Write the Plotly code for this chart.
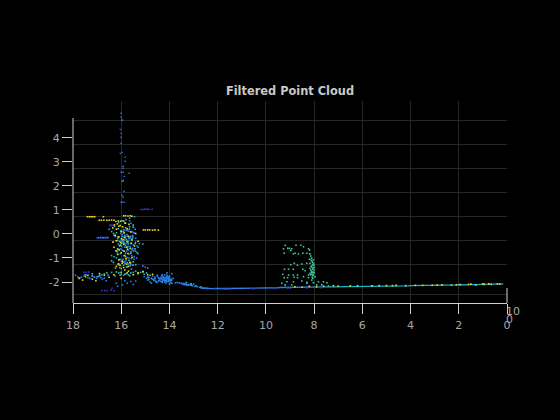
import plotly.graph_objects as go

X_TICKS = [18, 16, 14, 12, 10, 8, 6, 4, 2, 0]
Y_TICKS = [4, 3, 2, 1, 0, -1, -2]
Y_TICK_TEXT = ["4", "3", "2", "1", "0", "-1", "-2"]
Y_GRID = [4.71, 3.71, 2.71, 1.71, 0.71, -0.29, -1.29, -2.54]

column_x = [16.0,16.0,15.97,15.95,16.04,16.0,16.0,16.0,16.04,15.96,15.84,15.84,15.92,15.92,16.0,15.92,15.67,15.88,15.92,15.96,15.92,15.88,15.96,15.92,16.0,15.88,15.97]
column_y = [5.03,4.86,4.74,4.74,4.36,4.19,4.03,3.78,3.36,3.4,3.2,3.03,2.82,2.74,2.57,2.57,2.53,2.4,2.24,2.19,2.19,1.78,1.61,1.53,1.32,1.32,1.32]

blue_x = [15.65,15.6,15.5,15.42,15.9,15.8,15.75,15.7,15.62,15.55,15.5,15.45,15.85,15.78,15.72,15.66,15.6,15.52,15.4,16.0,15.95,15.88,15.8,15.7,15.6,15.5,15.34,16.1,16.02,15.9,15.78,15.7,15.6,15.5,
 15.9,15.82,15.75,15.68,15.58,15.47,15.3,16.0,15.9,15.84,15.7,15.62,15.52,15.1,15.0,14.9,16.95,16.85,16.75,16.65,16.55,
 17.9,17.8,17.72,17.65,17.55,17.45,17.38,17.3,17.2,17.1,17.02,16.95,16.85,16.78,16.7,16.62,16.2,15.95,15.85,15.75,15.6,15.5,15.4,16.15,
 15.05,14.95,14.9,14.85,14.8,14.7,14.65,14.6,14.55,14.5,14.45,14.4,14.35,14.3,14.25,14.2,14.15,14.1,14.05,14.0,13.95,13.9,13.85,14.6,14.5,14.4,14.3,14.2,14.1,14.0,13.9,14.7,14.6,14.5,14.45,14.35,14.25,14.2,14.15,14.1,14.05,14.0,13.95,14.3,14.2,14.1,14.0,13.95,14.85,14.75,14.65,14.55,14.45,14.35,14.25,14.15,14.05,
 14.28,14.22,14.18,14.12,14.08,14.02,13.98,14.26,14.16,14.06,14.32,14.12,14.04,14.24,14.14,
 13.75,13.68,13.6,13.5,13.42,13.35,13.3,13.25,13.2,13.12,13.05,12.95,12.85,12.75,12.68,12.6,12.5,12.42,
 16.02,15.96,15.9,15.84,15.76,15.68,15.58,16.08,15.98,15.86,15.74,15.64,15.52,15.44,16.14,16.04,15.92,15.8,15.66,15.56,15.46,15.36]
blue_y = [0.55,0.45,0.33,0.2,0.18,0.15,0.15,0.12,0.1,0.1,0.06,0.04,-0.05,-0.08,-0.1,-0.12,-0.1,-0.15,-0.18,-0.3,-0.28,-0.35,-0.4,-0.42,-0.4,-0.45,-0.5,-0.65,-0.62,-0.7,-0.72,-0.68,-0.75,-0.7,
 -0.9,-0.95,-0.98,-1.0,-1.02,-1.05,-0.82,-1.12,-1.18,-1.22,-1.25,-1.2,-1.3,-1.33,-1.38,-1.42,-0.15,-0.15,-0.16,-0.16,-0.15,
 -1.72,-1.78,-1.83,-1.8,-1.75,-1.7,-1.82,-1.85,-1.76,-1.8,-1.85,-1.78,-1.82,-1.88,-1.84,-1.95,-2.05,-2.12,-1.95,-2.05,-1.98,-2.1,-1.96,-2.18,
 -1.78,-1.85,-1.92,-1.82,-2.0,-1.75,-1.9,-1.8,-1.98,-1.72,-1.85,-1.95,-1.8,-1.7,-1.9,-2.0,-1.82,-1.62,-1.88,-1.75,-1.95,-1.65,-1.85,-1.92,-2.02,-1.88,-1.98,-1.92,-1.85,-1.78,-1.92,-1.88,-1.84,-1.76,-1.82,-1.86,-1.9,-1.93,-1.96,-1.72,-1.8,-1.84,-1.9,-1.86,-1.7,-1.98,-1.95,-2.02,-1.9,-2.05,-1.94,-2.0,-1.95,-1.98,-1.78,-2.05,-1.97,
 -1.86,-1.83,-1.9,-1.87,-1.81,-1.94,-1.89,-1.78,-1.96,-1.98,-1.74,-1.76,-1.84,-1.92,-1.94,
 -2.03,-2.02,-2.03,-2.05,-2.06,-2.08,-2.1,-2.12,-2.1,-2.14,-2.16,-2.18,-2.2,-2.22,-2.24,-2.25,-2.26,-2.27,
 0.02,-0.02,0.05,-0.12,-0.02,-0.2,-0.25,-0.5,-0.52,-0.55,-0.58,-0.52,-0.6,-0.62,-0.85,-0.82,-1.05,-1.08,-0.85,-0.9,-0.95,-1.0]

indigo_x = [15.18,15.1,15.03,14.97,14.9,14.84,14.72,16.47,16.43,16.38,16.32,17.0,16.92,16.85,16.78,16.7,16.6,16.8,16.68,16.58,16.42,16.3,16.38,
 17.55,17.45,17.35,14.3,14.22,14.15,14.1,14.0,13.92,13.55,13.5,13.45,13.4,13.35,13.3,13.25,12.1,11.85,11.7,11.6,11.5,10.6,10.5,9.7,9.6,9.1,9.0,8.3,7.7]
indigo_y = [1.02,1.02,1.03,1.03,1.03,1.02,1.03,0.36,0.36,0.36,0.35,-0.16,-0.17,-0.15,-0.14,-0.15,-0.14,-2.36,-2.36,-2.36,-2.34,-2.36,-2.26,
 -1.6,-1.6,-1.58,-1.92,-1.95,-1.98,-1.85,-1.92,-1.88,-2.06,-2.08,-2.1,-2.12,-2.12,-2.14,-2.14,-2.29,-2.29,-2.3,-2.3,-2.3,-2.28,-2.29,-2.27,-2.27,-2.26,-2.26,-2.25,-2.24]

cyan_x = [16.5,16.4,16.32,16.25,16.15,16.08,15.98,15.9,15.82,15.72,15.62,15.55,15.48,15.4,15.3,16.4,16.3,16.2,16.05,15.95,15.85,15.75,15.6,15.5,15.4,16.3,16.15,16.0,15.85,15.7,15.55,15.4,15.25,15.1,16.2,16.02,15.9,15.75,15.65,15.5,16.1,15.95,15.8,15.65,15.45,
 16.7,16.55,16.4,16.25,16.1,16.0,15.9,15.8,15.7,15.6,15.4,15.2,15.05,14.9,14.75,17.2,17.12,17.0,16.9,16.8,14.3,14.0,13.9,13.4,13.3,13.1,13.0,12.9,12.7,
 15.96,15.88,15.78,15.68,16.12,16.02,15.92,15.62,15.52,16.18,15.82,15.42,16.06,15.74,15.58]
cyan_y = [0.2,0.1,0.02,-0.1,-0.2,-0.3,-0.38,-0.42,-0.48,-0.52,-0.6,-0.65,-0.7,-0.72,-0.55,-0.9,-0.95,-1.0,-1.05,-1.1,-1.15,-1.2,-1.25,-1.3,-1.28,-0.05,-0.12,-0.2,-0.25,-0.3,-0.2,-0.35,-0.4,-0.42,0.05,0.12,0.18,0.22,0.3,0.38,0.48,0.55,0.6,0.66,0.72,
 -1.66,-1.72,-1.6,-1.75,-1.62,-1.68,-1.72,-1.66,-1.7,-1.62,-1.55,-1.6,-1.68,-1.8,-1.85,-1.74,-1.8,-1.78,-1.72,-1.7,-2.02,-2.08,-2.05,-2.08,-2.02,-2.13,-2.09,-2.16,-2.2,
 -0.1,-0.14,-0.22,-0.18,-0.42,-0.46,-0.34,-0.16,-0.08,-0.75,-0.8,-0.62,-1.4,-1.36,-1.46]

ground_blue_x = [12.7,12.4,12.3,12.2,12.1,12.0,11.9,11.8,11.7,11.6,11.5,11.4,11.3,11.2,11.1,11.0,10.9,10.8,10.7,10.6,10.5,10.4,10.3,10.2,10.1,10.0,9.9,9.8,9.7,9.6,9.5,9.4,9.3,9.2,9.1,9.0,8.9,8.8,8.7,8.6,8.5,8.4,8.3,8.2,8.1,8.0,7.9,7.8,7.7,7.6,7.5]
ground_blue_y = [-2.25,-2.28,-2.27,-2.28,-2.27,-2.28,-2.27,-2.27,-2.27,-2.27,-2.26,-2.27,-2.26,-2.26,-2.26,-2.26,-2.25,-2.25,-2.25,-2.25,-2.25,-2.25,-2.25,-2.25,-2.25,-2.24,-2.24,-2.24,-2.24,-2.24,-2.24,-2.23,-2.23,-2.23,-2.23,-2.23,-2.22,-2.22,-2.22,-2.22,-2.22,-2.22,-2.21,-2.21,-2.21,-2.21,-2.2,-2.2,-2.2,-2.2,-2.2]
ground_cyan_x = [7.5,7.4,7.3,7.2,7.1,7.0,6.9,6.8,6.7,6.6,6.5,6.4,6.3,6.2,6.1,6.0,5.9,5.8,5.7,5.6,5.5,5.4,5.3,5.2,5.1,5.0,4.9,4.8,4.7,4.6,4.5,4.4,4.3,4.2,4.1,4.0,3.9,3.8,3.7,3.6,3.5,3.4,3.3,3.2,3.1,3.0,2.9,2.8,2.7,2.6,2.5,2.4,2.3,2.2,2.1,2.0,1.9,1.8,1.7,1.6,1.5,1.4,1.3,1.2,1.1,1.0,0.9,0.85,0.7,0.6,0.45,0.35,0.25,0.15]
ground_cyan_y = [-2.2,-2.19,-2.19,-2.2,-2.2,-2.19,-2.19,-2.19,-2.19,-2.19,-2.19,-2.18,-2.18,-2.18,-2.18,-2.18,-2.18,-2.18,-2.17,-2.17,-2.17,-2.17,-2.17,-2.17,-2.17,-2.17,-2.16,-2.16,-2.17,-2.16,-2.16,-2.16,-2.16,-2.16,-2.16,-2.15,-2.15,-2.15,-2.15,-2.14,-2.14,-2.14,-2.14,-2.14,-2.14,-2.14,-2.14,-2.13,-2.14,-2.13,-2.13,-2.13,-2.12,-2.13,-2.12,-2.11,-2.12,-2.12,-2.11,-2.12,-2.11,-2.12,-2.1,-2.11,-2.1,-2.1,-2.09,-2.09,-2.08,-2.08,-2.08,-2.09,-2.08,-2.08]

green_x = [9.2,8.75,8.55,8.44,8.23,8.19,9.09,9.02,8.93,9.27,8.97,8.79,8.86,9.24,8.65,8.47,8.3,8.17,8.14,8.1,8.19,8.03,8.17,8.06,8.82,8.97,8.51,8.69,8.3,7.99,8.06,8.17,9.23,9.06,8.86,8.37,8.47,8.1,8.03,8.17,9.06,9.3,8.86,8.69,8.44,8.23,8.06,7.96,8.1,9.24,9.1,8.83,8.69,8.23,9.13,8.86,8.51,8.3,7.82,7.61,7.47,9.34,9.2,8.93,8.3,8.03,7.89,7.68,7.4,
 8.12,8.08,8.05,8.01,8.12,8.09,8.04,8.0,8.11,8.07,8.03,8.09,8.05,8.14,8.02,8.0,8.08,8.14,
 17.5,17.2,16.9,16.6,16.2,16.05,15.85,15.65,15.5,15.3,15.1,14.95,14.8,15.9,15.75,15.6,16.1,13.3,13.2,13.1,
 16.28,16.12,15.98,15.82,15.66,15.5,16.22,16.06,15.88,15.72,15.42,15.34,16.16,15.94,15.6,16.4,16.32,15.68,15.5,16.24,16.0,15.78,16.12,15.9,15.62]
green_y = [-0.47,-0.47,-0.47,-0.53,-0.62,-0.67,-0.6,-0.6,-0.62,-0.62,-0.69,-0.8,-0.83,-0.8,-0.83,-0.8,-0.8,-0.83,-0.92,-1.01,-1.05,-1.08,-1.22,-1.29,-1.22,-1.28,-1.25,-1.3,-1.22,-1.39,-1.47,-1.43,-1.47,-1.47,-1.47,-1.53,-1.47,-1.61,-1.71,-1.64,-1.71,-1.68,-1.71,-1.71,-1.78,-1.71,-1.85,-1.78,-1.92,-1.82,-1.82,-1.8,-1.82,-1.82,-1.99,-1.99,-1.96,-2.01,-1.99,-1.99,-2.03,-2.05,-2.12,-2.12,-2.05,-2.03,-2.12,-2.12,-2.17,
 -1.1,-1.15,-1.2,-1.3,-1.34,-1.38,-1.42,-1.5,-1.55,-1.58,-1.62,-1.68,-1.74,-1.5,-1.25,-1.6,-1.8,-1.7,
 -1.7,-1.66,-1.75,-1.62,-1.58,-1.72,-1.68,-1.74,-1.6,-1.65,-1.55,-1.62,-1.72,0.1,-0.35,-0.8,-1.25,-2.1,-2.12,-2.08,
 0.32,0.22,0.12,0.26,0.2,0.28,-0.28,-0.32,-0.44,-0.36,-0.4,-0.78,-0.72,-0.68,-0.76,-1.12,-1.18,-1.1,-1.16,-1.42,-1.44,-1.38,-1.28,-1.3,-1.32]

yellow_x = [17.4,17.32,17.25,17.18,17.1,16.74,15.9,15.82,15.72,15.62,15.56,16.91,16.82,16.72,16.6,16.5,16.4,16.3,16.22,16.12,16.02,15.9,15.85,15.08,15.0,14.9,14.82,14.7,14.6,14.46,
 16.35,16.2,16.1,16.0,15.88,15.75,15.6,15.4,16.25,16.1,15.98,15.85,15.7,15.55,15.3,16.3,16.15,16.05,15.9,15.78,15.62,15.45,16.15,16.0,15.85,15.72,15.55,16.1,15.95,15.8,15.62,16.2,16.05,15.9,15.7,16.0,15.85,15.7,
 17.75,17.6,17.48,17.38,17.2,17.05,16.9,16.7,16.5,16.3,16.0,15.75,15.5,15.3,15.1,14.9,14.7,
 8.8,8.5,8.2,7.9,7.6,7.2,7.0,6.5,6.2,5.6,5.3,5.0,4.75,4.6,4.2,3.8,3.5,3.1,2.9,2.7,2.3,2.1,1.95,1.6,1.5,1.3,1.0,0.95,0.75,0.65,0.4,0.3,
 16.28,16.16,16.04,15.94,15.82,15.68,16.34,16.18,16.02,15.92,15.76,15.58,16.22,16.08,15.88,15.74,16.12,15.96,15.78,15.64]
yellow_y = [0.72,0.72,0.72,0.72,0.72,0.72,0.76,0.76,0.75,0.76,0.74,0.57,0.57,0.57,0.57,0.57,0.58,0.57,0.52,0.54,0.53,0.54,0.46,0.17,0.17,0.17,0.17,0.16,0.17,0.16,
 0.25,0.2,0.32,0.1,0.05,0.22,0.08,0.02,-0.05,-0.12,-0.2,-0.15,-0.1,-0.25,-0.3,-0.55,-0.62,-0.48,-0.42,-0.55,-0.6,-0.5,-0.85,-0.78,-0.9,-0.82,-0.98,-1.08,-1.15,-1.02,-1.18,-1.35,-1.3,-1.4,-1.35,-1.6,-1.5,-1.55,
 -1.85,-1.92,-1.78,-1.72,-1.88,-1.95,-1.65,-1.72,-1.8,-1.7,-1.85,-1.62,-1.7,-1.62,-1.58,-1.7,-1.68,
 -2.2,-2.22,-2.18,-2.2,-2.18,-2.15,-2.17,-2.16,-2.16,-2.16,-2.15,-2.15,-2.15,-2.14,-2.15,-2.14,-2.14,-2.14,-2.13,-2.12,-2.13,-2.12,-2.11,-2.1,-2.09,-2.12,-2.08,-2.1,-2.08,-2.1,-2.08,-2.09,
 0.38,0.42,0.35,0.3,0.45,0.4,-0.34,-0.28,-0.36,-0.24,-0.3,-0.38,-0.7,-0.66,-0.72,-0.64,-1.24,-1.22,-1.26,-1.2]

fig = go.Figure()
for xs, ys, color in [(ground_blue_x, ground_blue_y, "#2a80e6"), (ground_cyan_x, ground_cyan_y, "#14b6cc")]:
    fig.add_trace(go.Scatter(x=xs, y=ys, mode="lines", showlegend=False, line=dict(color=color, width=1.3)))

for xs, ys, color, size in [
    (green_x, green_y, "#3cc8a0", 1.6),
    (indigo_x, indigo_y, "#3a32c4", 1.6),
    (cyan_x, cyan_y, "#14b6cc", 1.6),
    (blue_x, blue_y, "#2a80e6", 1.6),
    (yellow_x, yellow_y, "#eed82a", 1.6),
    (column_x, column_y, "#2a80e6", 1.4),
]:
    n = min(len(xs), len(ys))
    fig.add_trace(go.Scatter(x=xs[:n], y=ys[:n], mode="markers", showlegend=False,
                             marker=dict(symbol="square", size=size, color=color, line=dict(width=0))))

fig.add_trace(go.Scatter(x=[None], y=[None], yaxis="y2", showlegend=False))

fig.update_layout(
    width=560, height=420, autosize=False, hovermode=False,
    paper_bgcolor="#000000", plot_bgcolor="#000000",
    margin=dict(l=73, r=53, t=101, b=117),
    font=dict(family="DejaVu Sans", size=11, color="#b0b0b0"),
    title=dict(text="<b>Filtered Point Cloud</b>", x=290/560, xanchor="center", y=1-91/420, yanchor="middle",
               font=dict(size=11.4, color="#c8c8c8", family="DejaVu Sans")),
    xaxis=dict(range=[18, 0], tickmode="array", tickvals=X_TICKS, ticktext=[str(v) for v in X_TICKS],
               showgrid=True, gridcolor="#262626", gridwidth=1, zeroline=False,
               showline=True, linecolor="#d0d0d0", linewidth=1, ticks="outside", ticklen=10,
               tickcolor="#d0d0d0", tickwidth=1, ticklabelstandoff=2, tickfont=dict(color="#a8a8a8", size=11)),
    yaxis=dict(range=[-2.875, 5.54], tickmode="array", tickvals=Y_TICKS, ticktext=Y_TICK_TEXT,
               showgrid=False, zeroline=False, showline=False, ticks="outside", ticklen=10,
               tickcolor="#d0d0d0", tickwidth=1, tickfont=dict(color="#a8a8a8", size=11)),
    yaxis2=dict(range=[-2.875, 5.54], overlaying="y", side="right", tickmode="array", tickvals=Y_GRID,
                showticklabels=False, ticks="", showgrid=True, gridcolor="#262626", gridwidth=1,
                zeroline=False, showline=False, layer="below traces"),
    shapes=[
        dict(type="line", xref="paper", yref="paper", x0=0, x1=0, y0=0, y1=185/202,
             line=dict(color="#d0d0d0", width=1)),
        dict(type="line", xref="paper", yref="paper", x0=1, x1=1, y0=0, y1=15/202,
             line=dict(color="#d0d0d0", width=1)),
    ],
    annotations=[
        dict(text="10", xref="paper", yref="paper", x=1.014, y=-8/202, xanchor="center", yanchor="middle",
             showarrow=False, font=dict(color="#a8a8a8", size=11)),
        dict(text="0", xref="paper", yref="paper", x=1.005, y=-16/202, xanchor="center", yanchor="middle",
             showarrow=False, font=dict(color="#a8a8a8", size=11)),
    ],
)
fig.write_html("out.html", config=dict(displayModeBar=False),
               post_script="document.body.style.margin='0';document.body.style.background='#000';document.documentElement.style.background='#000';")
